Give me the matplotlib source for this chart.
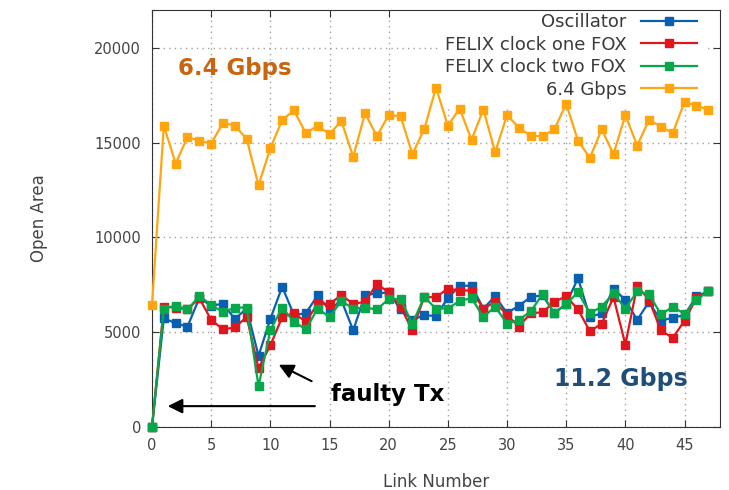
import numpy as np
import matplotlib
matplotlib.use("Agg")
from matplotlib import pyplot as plt

# link numbers 0..47
links = list(range(48))

oscillator = [0, 5750, 5460, 5300, 6800, 6400, 6500, 5700, 6250, 3750,
              5700, 7400, 5900, 6000, 6950, 6150, 6700, 5100, 6950, 7050,
              7100, 6200, 5650, 5900, 5850, 6800, 7450, 7450, 6250, 6900,
              6000, 6400, 6850, 6950, 6000, 6500, 7850, 5800, 6000, 7300,
              6700, 5650, 6600, 5600, 5770, 5900, 6900, 7150]

felix_one = [0, 6350, 6300, 6200, 6800, 5650, 5150, 5250, 5800, 3100,
             4300, 5800, 6000, 5550, 6500, 6500, 6950, 6500, 6600, 7550,
             7100, 6350, 5100, 6850, 6850, 7300, 7200, 7200, 6250, 6600,
             5900, 5300, 6000, 6050, 6600, 6900, 6200, 5050, 5450, 6850,
             4350, 7450, 6700, 5100, 4700, 5600, 6800, 7150]

felix_two = [0, 6250, 6400, 6200, 6900, 6450, 6050, 6300, 6300, 2150,
             5100, 6300, 5550, 5150, 6250, 5800, 6650, 6250, 6300, 6200,
             6750, 6750, 5450, 6850, 6250, 6250, 6650, 6800, 5800, 6350,
             5450, 5650, 6100, 7000, 6000, 6500, 7100, 6000, 6350, 7050,
             6250, 7150, 7000, 5950, 6330, 5980, 6700, 7150]

gbps64 = [6450, 15900, 13900, 15300, 15100, 14950, 16050, 15900, 15200, 12750,
          14700, 16200, 16700, 15500, 15900, 15450, 16150, 14250, 16550, 15350,
          16450, 16400, 14400, 15700, 17900, 15900, 16800, 15150, 16750, 14500,
          16450, 15800, 15350, 15350, 15700, 17050, 15100, 14200, 15700, 14400,
          16450, 14850, 16200, 15850, 15500, 17150, 16950, 16750]

series = [
    ("Oscillator", oscillator, "#0a60b0"),
    ("FELIX clock one FOX", felix_one, "#e0161e"),
    ("FELIX clock two FOX", felix_two, "#08a84a"),
    ("6.4 Gbps", gbps64, "#ffa510"),
]

fig = plt.figure(figsize=(7.29, 4.9), dpi=100)
ax = fig.add_axes([0.2085, 0.1286, 0.7792, 0.851])

for name, vals, col in series:
    ax.plot(links, vals, color=col, lw=1.6, marker='s', ms=5.5, label=name,
            clip_on=False, zorder=3)

ax.set_xlim(0, 48)
ax.set_ylim(0, 22000)
ax.set_xticks(range(0, 46, 5))
ax.set_yticks(range(0, 20001, 5000))
ax.grid(True, color='#a0a0a0', linestyle=(0, (1, 3)), lw=1)
ax.tick_params(direction='in', top=True, right=True, length=5,
               colors='#333333', labelsize=10.5, pad=8)
for s in ax.spines.values():
    s.set_color('#333333')
for t in ax.get_xticklabels() + ax.get_yticklabels():
    t.set_color('#444444')

ax.set_xlabel("Link Number", fontsize=12, color='#444444', labelpad=14)
ax.set_ylabel("Open Area", fontsize=12, color='#444444', labelpad=33)

leg = ax.legend(loc='upper right', bbox_to_anchor=(0.972, 1.01),
                markerfirst=False, frameon=True,
                fontsize=13, handlelength=3.1, handletextpad=0.8,
                borderaxespad=0.0, labelspacing=0.25, framealpha=1)
leg.get_frame().set_edgecolor('none')
leg.set_zorder(2)
for t in leg.get_texts():
    t.set_color('#3a3a3a')

ax.text(2.2, 18900, "6.4 Gbps", color='#c8650e', fontsize=16.5,
        fontweight='bold', va='center', ha='left')
ax.text(39.6, 2550, "11.2 Gbps", color='#1f4e79', fontsize=17,
        fontweight='bold', va='center', ha='center')
ax.text(19.9, 1700, "faulty Tx", color='black', fontsize=16.5,
        fontweight='bold', va='center', ha='center')

ax.annotate("", xy=(1.1, 1100), xytext=(14.0, 1100),
            arrowprops=dict(arrowstyle='-|>', color='black', lw=1.5,
                            mutation_scale=22))
ax.annotate("", xy=(10.5, 3350), xytext=(13.7, 2350),
            arrowprops=dict(arrowstyle='-|>', color='black', lw=1.5,
                            mutation_scale=22))

fig.savefig("out.png", dpi=100)
